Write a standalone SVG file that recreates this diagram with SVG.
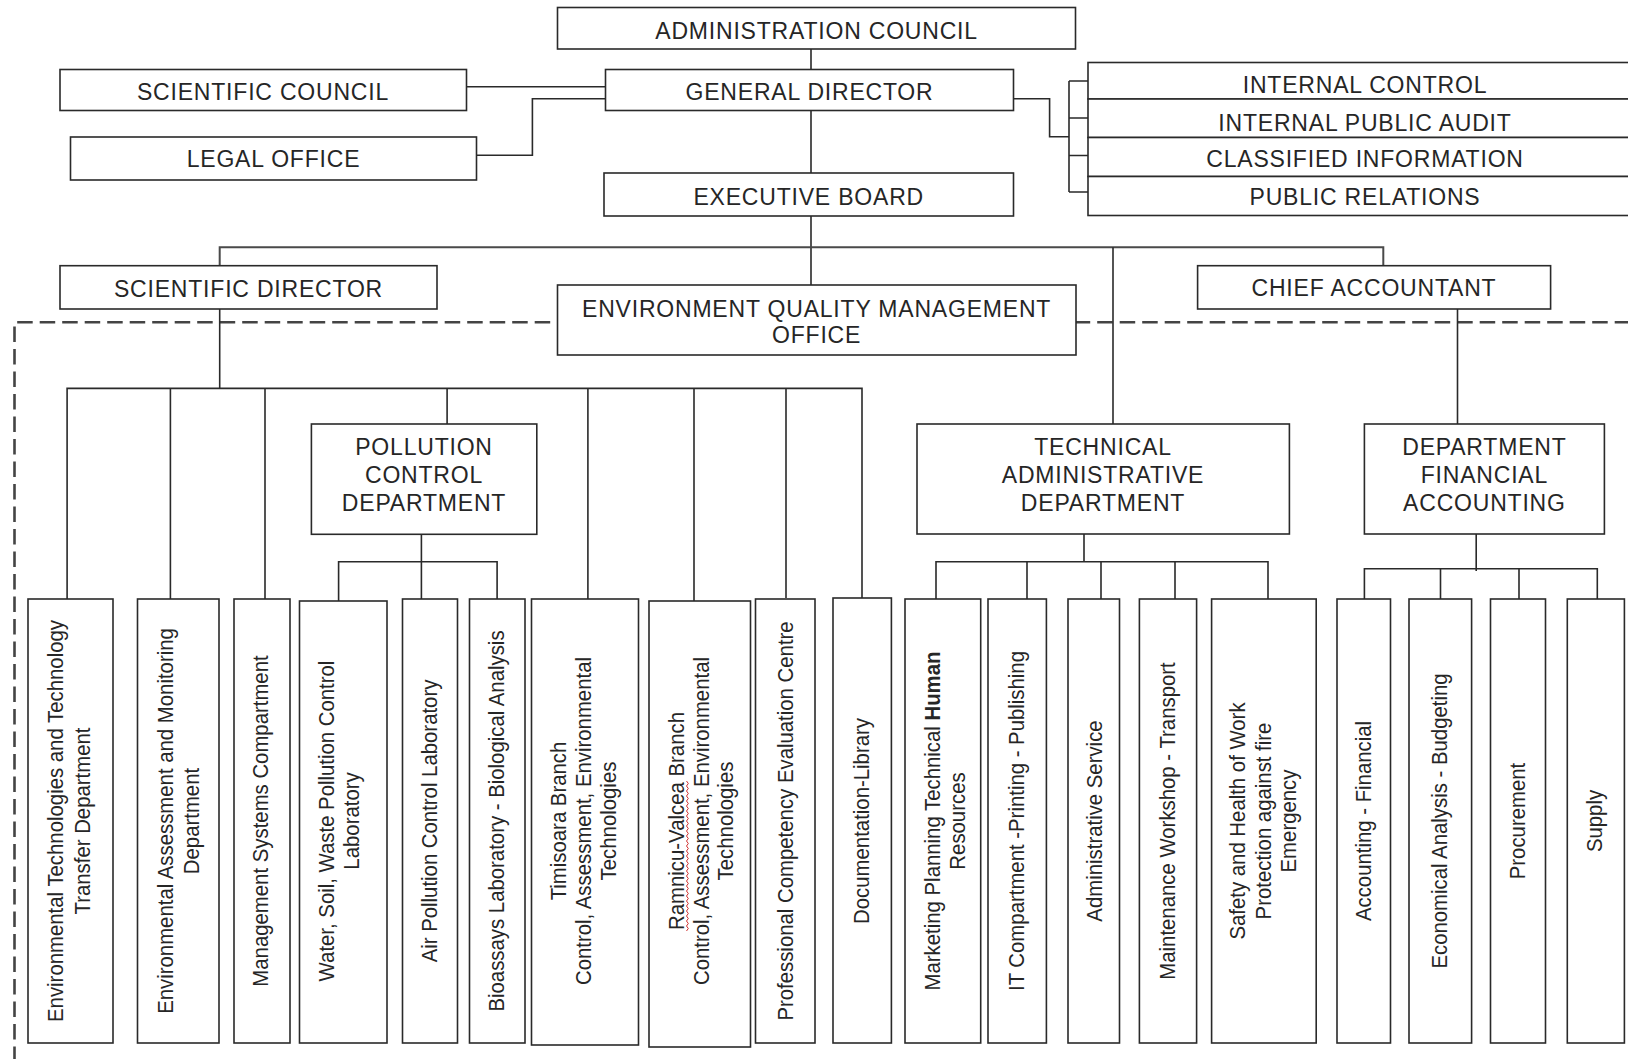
<svg xmlns="http://www.w3.org/2000/svg" width="1628" height="1059" viewBox="0 0 1628 1059">
<style>
.bg{fill:#fff}
.box{fill:#fff;stroke:#2a2a2a;stroke-width:1.6}
.t{font-family:"Liberation Sans",Arial,sans-serif;font-size:23px;letter-spacing:0.8px;fill:#262626;text-anchor:middle}
.v{font-family:"Liberation Sans",Arial,sans-serif;font-size:22px;fill:#262626;text-anchor:middle}
.c{fill:none;stroke:#2a2a2a;stroke-width:1.6}
.bus{fill:none;stroke:#4a4a4a;stroke-width:2}
.dash{fill:none;stroke:#444;stroke-width:2.6;stroke-dasharray:15.5 7}
.sq{fill:none;stroke:#d03030;stroke-width:1}
</style>
<rect class="bg" x="0" y="0" width="1628" height="1059"/>

<!-- dashed boundary -->
<path class="dash" d="M14.5,1062 V322.2 H1640"/>

<g id="connectors">
  <path class="c" d="M811,49 V69.5 M811,110.5 V173 M811,216 V285"/>
  <path class="c" d="M466.5,86.7 H605.5"/>
  <path class="c" d="M476.5,155.3 H532.4 V98.7 H605.5"/>
  <path class="c" d="M1013.5,98.7 H1049.6 V136.7 H1069"/>
  <path class="c" d="M1069,81 V192 M1069,81 H1088 M1069,118 H1088 M1069,155.5 H1088 M1069,192 H1088"/>
  <path class="bus" d="M219.7,265.7 V247.3 H1383.3 V265.7"/>
  <path class="c" d="M1113,247.3 V424"/>
  <path class="c" d="M219.7,309 V388.4"/>
  <path class="c" d="M67.1,599 V388.4 H862 V598 M170.4,388.4 V599 M265,388.4 V599 M447.1,388.4 V424 M587.9,388.4 V599 M694,388.4 V601 M786,388.4 V598"/>
  <path class="c" d="M421.4,534.3 V599 M338.6,601 V561.7 H497.1 V599"/>
  <path class="c" d="M1084,534 V561.7 M936,599 V561.7 H1268 V599 M1027,561.7 V599 M1101,561.7 V599 M1175,561.7 V599"/>
  <path class="c" d="M1457.5,309 V424"/>
  <path class="c" d="M1476.2,534 V571 M1364.4,599 V568.7 H1597.3 V599 M1440.5,568.7 V599 M1519,568.7 V599"/>
</g>

<g id="administration-council">
  <rect class="box" x="557.5" y="7.5" width="518" height="41.5"/>
  <text class="t" x="816.6" y="39">ADMINISTRATION COUNCIL</text>
</g>
<g id="general-director">
  <rect class="box" x="605.5" y="69.5" width="408" height="41"/>
  <text class="t" x="809.5" y="100">GENERAL DIRECTOR</text>
</g>
<g id="scientific-council">
  <rect class="box" x="60" y="69.5" width="406.5" height="41"/>
  <text class="t" x="263" y="100">SCIENTIFIC COUNCIL</text>
</g>
<g id="legal-office">
  <rect class="box" x="70.5" y="137" width="406" height="43"/>
  <text class="t" x="273.5" y="166.7">LEGAL OFFICE</text>
</g>
<g id="executive-board">
  <rect class="box" x="604" y="173" width="409.5" height="43"/>
  <text class="t" x="808.7" y="205">EXECUTIVE BOARD</text>
</g>
<g id="internal-control">
  <rect class="box" x="1088" y="62.5" width="560" height="36.5"/>
  <text class="t" x="1365" y="92.7">INTERNAL CONTROL</text>
</g>
<g id="internal-public-audit">
  <rect class="box" x="1088" y="99" width="560" height="38.5"/>
  <text class="t" x="1365" y="130.7">INTERNAL PUBLIC AUDIT</text>
</g>
<g id="classified-information">
  <rect class="box" x="1088" y="137.5" width="560" height="39"/>
  <text class="t" x="1365" y="166.7">CLASSIFIED INFORMATION</text>
</g>
<g id="public-relations">
  <rect class="box" x="1088" y="176.5" width="560" height="39"/>
  <text class="t" x="1365" y="204.7">PUBLIC RELATIONS</text>
</g>
<g id="scientific-director">
  <rect class="box" x="60" y="265.7" width="377" height="43.3"/>
  <text class="t" x="248.5" y="296.5">SCIENTIFIC DIRECTOR</text>
</g>
<g id="environment-quality-management-office">
  <rect class="box" x="557.5" y="285" width="518.5" height="70"/>
  <text class="t" x="816.6" y="316.7">ENVIRONMENT QUALITY MANAGEMENT</text>
  <text class="t" x="816.6" y="343.3">OFFICE</text>
</g>
<g id="chief-accountant">
  <rect class="box" x="1197.6" y="265.7" width="353" height="43.3"/>
  <text class="t" x="1374" y="296">CHIEF ACCOUNTANT</text>
</g>
<g id="pollution-control-department">
  <rect class="box" x="311.4" y="424" width="225.4" height="110.3"/>
  <text class="t" x="424" y="455">POLLUTION</text>
  <text class="t" x="424" y="483">CONTROL</text>
  <text class="t" x="424" y="511">DEPARTMENT</text>
</g>
<g id="technical-administrative-department">
  <rect class="box" x="917" y="424" width="372.4" height="110"/>
  <text class="t" x="1103" y="455">TECHNICAL</text>
  <text class="t" x="1103" y="483">ADMINISTRATIVE</text>
  <text class="t" x="1103" y="511">DEPARTMENT</text>
</g>
<g id="department-financial-accounting">
  <rect class="box" x="1364.4" y="424" width="240" height="110"/>
  <text class="t" x="1484.4" y="454.5">DEPARTMENT</text>
  <text class="t" x="1484.4" y="482.5">FINANCIAL</text>
  <text class="t" x="1484.4" y="510.7">ACCOUNTING</text>
</g>

<g id="env-tech-transfer">
  <rect class="box" x="28" y="599" width="85" height="444"/>
  <text class="v" transform="translate(63,821) rotate(-90) scale(0.925,1)">Environmental Technologies and Technology</text>
  <text class="v" transform="translate(89.5,821) rotate(-90) scale(0.925,1)">Transfer Department</text>
</g>
<g id="env-assessment-monitoring">
  <rect class="box" x="137.5" y="599" width="81.5" height="444"/>
  <text class="v" transform="translate(172.5,821) rotate(-90) scale(0.925,1)">Environmental Assessment and Monitoring</text>
  <text class="v" transform="translate(198.5,821) rotate(-90) scale(0.925,1)">Department</text>
</g>
<g id="management-systems">
  <rect class="box" x="234" y="599" width="56" height="444"/>
  <text class="v" transform="translate(268,821) rotate(-90) scale(0.925,1)">Management Systems Compartment</text>
</g>
<g id="water-soil-waste-lab">
  <rect class="box" x="299.5" y="601" width="87.5" height="442"/>
  <text class="v" transform="translate(334,821) rotate(-90) scale(0.925,1)">Water, Soil, Waste Pollution Control</text>
  <text class="v" transform="translate(359,821) rotate(-90) scale(0.925,1)">Laboratory</text>
</g>
<g id="air-pollution-lab">
  <rect class="box" x="402.5" y="599" width="55" height="444"/>
  <text class="v" transform="translate(437,821) rotate(-90) scale(0.925,1)">Air Pollution Control Laboratory</text>
</g>
<g id="bioassays-lab">
  <rect class="box" x="469.5" y="599" width="55.5" height="444"/>
  <text class="v" transform="translate(504,821) rotate(-90) scale(0.925,1)">Bioassays Laboratory - Biological Analysis</text>
</g>
<g id="timisoara-branch">
  <rect class="box" x="531.5" y="599" width="107" height="446"/>
  <text class="v" transform="translate(566,821) rotate(-90) scale(0.925,1)">Timisoara Branch</text>
  <text class="v" transform="translate(591,821) rotate(-90) scale(0.925,1)">Control, Assessment, Environmental</text>
  <text class="v" transform="translate(616,821) rotate(-90) scale(0.925,1)">Technologies</text>
</g>
<g id="ramnicu-valcea-branch">
  <rect class="box" x="649" y="601" width="101.5" height="446"/>
  <text class="v" transform="translate(684,821) rotate(-90) scale(0.925,1)">Ramnicu-Valcea Branch</text>
  <text class="v" transform="translate(709,821) rotate(-90) scale(0.925,1)">Control, Assessment, Environmental</text>
  <text class="v" transform="translate(733,821) rotate(-90) scale(0.925,1)">Technologies</text>
  <path class="sq" d="M686.5,931 l1.8,-2.5 l-1.8,-2.5 l1.8,-2.5 l-1.8,-2.5 l1.8,-2.5 l-1.8,-2.5 l1.8,-2.5 l-1.8,-2.5 l1.8,-2.5 l-1.8,-2.5 l1.8,-2.5 l-1.8,-2.5 l1.8,-2.5 l-1.8,-2.5 l1.8,-2.5 l-1.8,-2.5 l1.8,-2.5 l-1.8,-2.5 l1.8,-2.5 l-1.8,-2.5 l1.8,-2.5 l-1.8,-2.5 l1.8,-2.5 l-1.8,-2.5 l1.8,-2.5 l-1.8,-2.5 l1.8,-2.5 l-1.8,-2.5 l1.8,-2.5 l-1.8,-2.5 l1.8,-2.5 l-1.8,-2.5 l1.8,-2.5 l-1.8,-2.5 l1.8,-2.5 l-1.8,-2.5 l1.8,-2.5 l-1.8,-2.5 l1.8,-2.5 l-1.8,-2.5 l1.8,-2.5 l-1.8,-2.5 l1.8,-2.5 l-1.8,-2.5 l1.8,-2.5 l-1.8,-2.5 l1.8,-2.5 l-1.8,-2.5 l1.8,-2.5 l-1.8,-2.5 l1.8,-2.5 l-1.8,-2.5 l1.8,-2.5 l-1.8,-2.5 l1.8,-2.5 l-1.8,-2.5 l1.8,-2.5 l-1.8,-2.5 l1.8,-2.5 l-1.8,-2.5"/>
</g>
<g id="professional-competency">
  <rect class="box" x="755.5" y="599" width="59.5" height="444"/>
  <text class="v" transform="translate(792.5,821) rotate(-90) scale(0.925,1)">Professional Competency Evaluation Centre</text>
</g>
<g id="documentation-library">
  <rect class="box" x="833" y="598" width="58.4" height="445"/>
  <text class="v" transform="translate(868.5,821) rotate(-90) scale(0.925,1)">Documentation-Library</text>
</g>
<g id="marketing-planning">
  <rect class="box" x="905" y="599" width="75.7" height="444"/>
  <text class="v" transform="translate(940,821) rotate(-90) scale(0.925,1)">Marketing Planning Technical <tspan font-weight="bold">Human</tspan></text>
  <text class="v" transform="translate(964.5,821) rotate(-90) scale(0.925,1)">Resources</text>
</g>
<g id="it-compartment">
  <rect class="box" x="988" y="599" width="58.4" height="444"/>
  <text class="v" transform="translate(1023.5,821) rotate(-90) scale(0.925,1)">IT Compartment -Printing - Publishing</text>
</g>
<g id="administrative-service">
  <rect class="box" x="1068" y="599" width="51.5" height="444"/>
  <text class="v" transform="translate(1101.5,821) rotate(-90) scale(0.925,1)">Administrative Service</text>
</g>
<g id="maintenance-workshop">
  <rect class="box" x="1139.4" y="599" width="57.2" height="444"/>
  <text class="v" transform="translate(1174.5,821) rotate(-90) scale(0.925,1)">Maintenance Workshop - Transport</text>
</g>
<g id="safety-health">
  <rect class="box" x="1211.6" y="599" width="104.6" height="444"/>
  <text class="v" transform="translate(1245,821) rotate(-90) scale(0.925,1)">Safety and Health of Work</text>
  <text class="v" transform="translate(1271,821) rotate(-90) scale(0.925,1)">Protection against fire</text>
  <text class="v" transform="translate(1296,821) rotate(-90) scale(0.925,1)">Emergency</text>
</g>
<g id="accounting-financial">
  <rect class="box" x="1337" y="599" width="53.5" height="444"/>
  <text class="v" transform="translate(1370.5,821) rotate(-90) scale(0.925,1)">Accounting - Financial</text>
</g>
<g id="economical-analysis">
  <rect class="box" x="1409" y="599" width="62.6" height="444"/>
  <text class="v" transform="translate(1446.5,821) rotate(-90) scale(0.925,1)">Economical Analysis - Budgeting</text>
</g>
<g id="procurement">
  <rect class="box" x="1490.5" y="599" width="55" height="444"/>
  <text class="v" transform="translate(1524.5,821) rotate(-90) scale(0.925,1)">Procurement</text>
</g>
<g id="supply">
  <rect class="box" x="1567.3" y="599" width="57.1" height="444"/>
  <text class="v" transform="translate(1602,821) rotate(-90) scale(0.925,1)">Supply</text>
</g>
</svg>
